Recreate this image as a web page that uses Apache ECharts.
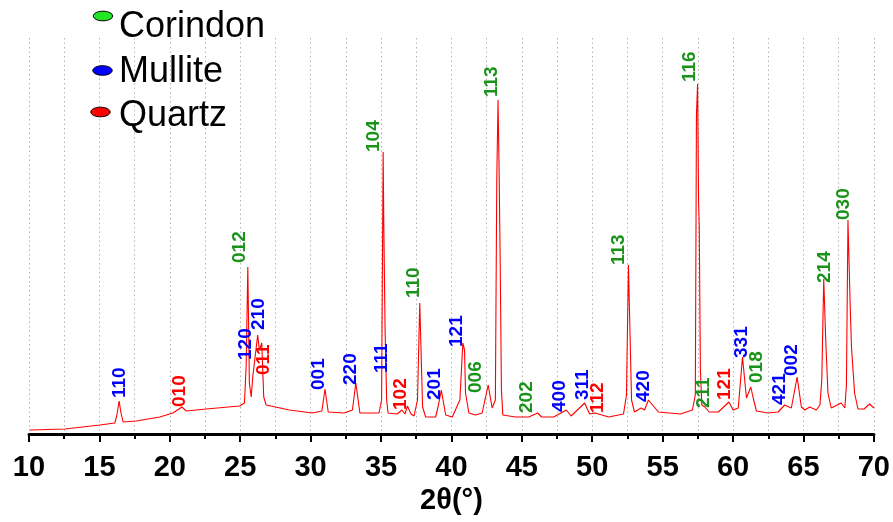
<!DOCTYPE html>
<html><head><meta charset="utf-8">
<script src="https://cdn.jsdelivr.net/npm/echarts@6/dist/echarts.min.js"></script>
<style>html,body{margin:0;padding:0;background:#fff}#c{width:893px;height:522px}</style>
</head><body><div id="c"></div>
<script>
// XRD pattern (2θ in degrees, intensity in a.u.)
const twoTheta = [10.07,12.55,15.03,16.09,16.23,16.40,16.52,16.68,17.63,19.28,20.22,20.86,21.17,22.59,24.95,25.30,25.42,25.54,25.65,25.78,25.89,26.24,26.36,26.53,26.67,26.84,28.49,30.12,30.80,31.02,31.25,32.38,32.97,33.21,33.50,34.16,34.86,35.04,35.15,35.20,35.29,35.40,35.50,36.14,36.49,36.70,36.87,37.13,37.34,37.59,37.75,37.86,37.95,38.17,38.88,39.08,39.28,39.59,40.06,40.60,40.81,40.93,41.00,41.24,41.71,42.18,42.61,42.89,43.12,43.22,43.31,43.39,43.47,43.55,43.65,44.55,45.49,46.13,46.40,47.26,48.16,48.50,49.46,49.81,50.21,51.16,52.22,52.43,52.57,52.68,52.79,53.00,53.47,53.71,53.99,54.70,56.26,57.11,57.32,57.40,57.48,57.55,57.60,57.68,57.78,58.00,58.30,58.95,59.71,60.00,60.37,60.67,60.95,61.26,61.43,61.66,62.49,63.20,63.67,64.14,64.55,64.85,65.10,65.44,65.91,66.17,66.30,66.44,66.58,66.74,66.97,67.68,67.94,68.05,68.16,68.32,68.41,68.63,68.87,69.30,69.70,70.00];
const intensity = [4,5,9,11,18,33,22,12,13,17,21,27,23,25,28,31,67,167,51,37,57,99,84,91,37,29,24,21,23,45,22,21,24,51,21,21,21,34,282,204,102,34,21,20,24,20,28,20,18,34,131,74,27,17,17,29,44,19,17,34,91,84,41,21,19,21,49,26,34,254,334,259,162,44,19,17,17,21,17,17,24,18,31,20,21,17,20,39,169,102,34,22,26,24,34,22,20,24,39,319,350,234,206,64,29,27,22,22,32,24,26,77,36,47,36,23,21,22,29,26,57,27,24,27,24,29,54,155,94,41,26,31,26,49,214,127,87,41,25,25,30,26];

// Peak annotations (hkl, phase index, 2θ of label anchor, intensity at label foot)
const peakLabels = ['110','010','012','120','210','011','001','220','104','111','102','110','201','121','006','113','202','400','311','112','113','420','116','211','121','331','018','421','002','214','030'];
const peakPhases = [1,2,0,1,1,2,1,1,0,1,2,0,1,1,0,0,0,1,1,2,0,1,0,0,2,1,0,1,1,0,0];
const labelTheta = [16.45,20.70,24.95,25.41,26.31,26.65,30.61,32.86,34.51,35.06,36.40,37.34,38.83,40.37,41.71,42.89,45.37,47.66,49.31,50.40,51.91,53.64,56.94,57.89,59.42,60.60,61.66,63.32,64.19,66.51,67.85];
const labelBase = [36,27,171,74,104,59,44,49,282,61,24,136,34,87,41,337,21,22,34,21,169,32,352,26,34,76,51,29,58,151,214];

const phaseNames = ['Corindon','Mullite','Quartz'];
const phaseLabelColors = ['#1a931a','#0000ff','#ff0000'];
const phaseLegendColors = ['#22e622','#0000ff','#ff0000'];

const FONT = '"Liberation Sans", Arial, Helvetica, sans-serif';
const chart = echarts.init(document.getElementById('c'), null, {renderer: 'canvas'});

const series = [{
  type: 'line',
  name: 'XRD',
  data: twoTheta.map((t, i) => [t, intensity[i]]),
  showSymbol: false,
  symbol: 'none',
  lineStyle: {color: '#ff0000', width: 1.1},
  z: 3,
  silent: true
}];
phaseNames.forEach((p, k) => {
  const items = [];
  peakLabels.forEach((lab, i) => {
    if (peakPhases[i] === k) items.push({name: lab, value: [labelTheta[i], labelBase[i]]});
  });
  series.push({
    type: 'scatter',
    name: p,
    data: items,
    symbolSize: 0,
    itemStyle: {opacity: 1, color: phaseLabelColors[k]},
    z: 5,
    silent: true,
    label: {
      show: true,
      formatter: '{b}',
      position: 'inside',
      rotate: 90,
      align: 'left',
      verticalAlign: 'middle',
      color: phaseLabelColors[k],
      opacity: 1,
      fontSize: 19,
      fontWeight: 'bold',
      fontFamily: FONT
    }
  });
});

const legendY = [16, 70.5, 112];
const legendX = [103, 102.5, 100.5];
const legendTextY = [27.5, 72, 116];
const graphics = [];
phaseNames.forEach((p, k) => {
  graphics.push({type: 'ellipse', shape: {cx: legendX[k], cy: legendY[k], rx: 9.7, ry: 4.8},
    style: {fill: phaseLegendColors[k], stroke: '#000', lineWidth: 1}, z: 10});
  graphics.push({type: 'text', x: 119, y: legendTextY[k],
    style: {text: p, fill: '#000', font: '36px ' + FONT, textVerticalAlign: 'middle', textAlign: 'left'}, z: 10});
});

chart.setOption({
  animation: false,
  backgroundColor: '#ffffff',
  grid: {left: 29, right: 17, top: 38, bottom: 88},
  xAxis: {
    type: 'value', min: 10, max: 70, interval: 5,
    name: '2θ(°)', nameLocation: 'middle', nameGap: 52,
    nameTextStyle: {fontSize: 29, fontWeight: 'bold', color: '#000', fontFamily: FONT},
    axisLine: {show: true, lineStyle: {color: '#000', width: 3}},
    axisTick: {show: true, length: 8, lineStyle: {color: '#000', width: 2}},
    minorTick: {show: true, splitNumber: 2, length: 5, lineStyle: {color: '#000', width: 2}},
    axisLabel: {fontSize: 29, fontWeight: 'bold', color: '#000', margin: 19, fontFamily: FONT},
    splitLine: {show: true, lineStyle: {color: '#b4b4b4', type: [1.5, 3], width: 1}},
    minorSplitLine: {show: true, lineStyle: {color: '#b4b4b4', type: [1.5, 3], width: 1}}
  },
  yAxis: {
    type: 'value', min: 0, max: 396, show: false,
    splitLine: {show: false}
  },
  graphic: graphics,
  series: series
});
</script>
</body></html>
